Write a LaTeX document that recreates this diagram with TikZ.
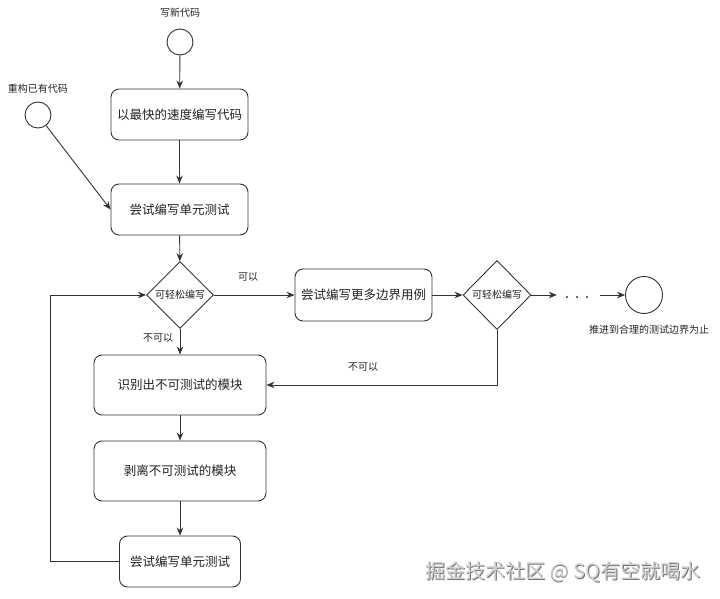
\documentclass[tikz,border=0pt]{standalone}
\usepackage{fontspec}
\setmainfont{Noto Sans CJK SC}
\usetikzlibrary{shapes.geometric,arrows.meta}
\definecolor{ln}{HTML}{333333}
\definecolor{tx}{HTML}{222222}
\tikzset{
  boxst/.style={draw=ln, line width=0.9pt, rounded corners=8pt, inner sep=0pt, font=\fontsize{12.5}{14}\selectfont, text=tx},
  diast/.style={draw=ln, line width=0.9pt, diamond, inner sep=0pt, minimum width=67pt, minimum height=67pt, font=\fontsize{10}{12}\selectfont, text=tx},
  circst/.style={draw=ln, line width=0.9pt, circle, inner sep=0pt},
  lbl/.style={font=\fontsize{10}{12}\selectfont, text=tx, inner sep=0pt},
  arr/.style={draw=ln, line width=0.9pt, -{Stealth[length=8pt,width=6.5pt]}},
}
\begin{document}
\begin{tikzpicture}[x=1pt,y=-1pt]
\useasboundingbox[fill=white] (0,0) rectangle (720,599);
% start circles
\node[circst, minimum size=26pt] (c1) at (180,42) {};
\node[lbl] (c1l) at (180,13) {写新代码};
\node[circst, minimum size=26pt] (c2) at (38,115) {};
\node[lbl] (c2l) at (38,89) {重构已有代码};
% boxes
\node[boxst, minimum width=137pt, minimum height=51pt] (b1) at (179.5,114.5) {以最快的速度编写代码};
\node[boxst, minimum width=137pt, minimum height=51pt] (b2) at (179.5,209.5) {尝试编写单元测试};
\node[diast] (d1) at (180,295) {可轻松编写};
\node[boxst, minimum width=137pt, minimum height=52pt] (b3) at (363.5,295) {尝试编写更多边界用例};
\node[diast, minimum width=68pt, minimum height=69pt] (d2) at (497,295) {可轻松编写};
\node[inner sep=0pt, minimum width=43pt, minimum height=6pt] (dots) at (578.5,295) {};
\fill[ln] (567,297) circle (1.1pt) (577,297) circle (1.1pt) (587,297) circle (1.1pt);
\node[circst, minimum size=37pt] (e) at (644,295) {};
\node[lbl] (el) at (649,330) {推进到合理的测试边界为止};
\node[boxst, minimum width=172pt, minimum height=60pt] (b4) at (180,385) {识别出不可测试的模块};
\node[boxst, minimum width=172pt, minimum height=60pt] (b5) at (180,471) {剥离不可测试的模块};
\node[boxst, minimum width=121pt, minimum height=51pt] (b6) at (180,561.5) {尝试编写单元测试};
% labels
\node[lbl] (lk) at (248,277) {可以};
\node[lbl] (lno) at (158,338) {不可以};
\node[lbl] (lno2) at (363,367) {不可以};
% connectors
\draw[arr] (c1) -- (b1);
\draw[arr] (b1) -- (b2);
\draw[arr] (c2) -- (b2.west);
\draw[arr] (b2) -- (d1);
\draw[arr] (d1) -- (b3);
\draw[arr] (b3) -- (d2);
\draw[arr] (d2) -- (dots.west);
\draw[arr] (dots.east) -- (e);
\draw[arr] (d1) -- (b4);
\draw[arr] (d2.south) |- (b4.east);
\draw[arr] (b4) -- (b5);
\draw[arr] (b5) -- (b6);
\draw[arr] (b6.west) -- ++(-68.5,0) |- (d1.west);
% watermark
\node[font=\fontsize{20}{22}\selectfont, text=black!55, inner sep=0pt] (wms) at (563.7,572.7) {掘金技术社区 @ SQ有空就喝水};
\node[font=\fontsize{20}{22}\selectfont, text=black!18, inner sep=0pt] (wm) at (563,572) {掘金技术社区 @ SQ有空就喝水};
\end{tikzpicture}
\end{document}
